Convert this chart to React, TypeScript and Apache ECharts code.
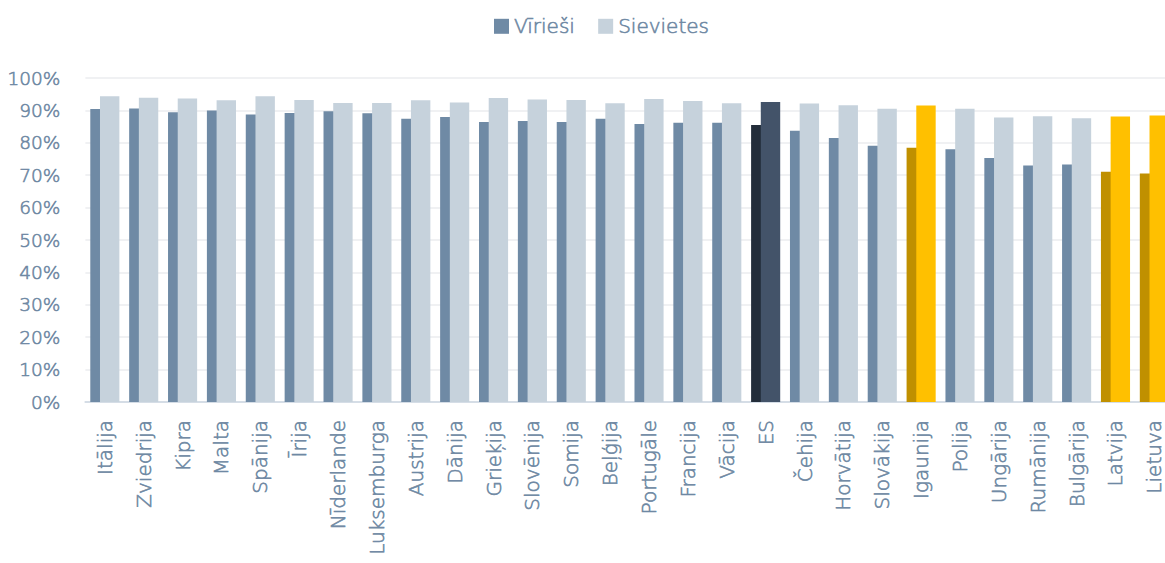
import React, { useEffect, useRef } from "react";
import * as echarts from "echarts";

const categories = [
  "Itālija", "Zviedrija", "Kipra", "Malta", "Spānija", "Īrija", "Nīderlande",
  "Luksemburga", "Austrija", "Dānija", "Grieķija", "Slovēnija", "Somija",
  "Beļģija", "Portugāle", "Francija", "Vācija", "ES", "Čehija", "Horvātija",
  "Slovākija", "Igaunija", "Polija", "Ungārija", "Rumānija", "Bulgārija",
  "Latvija", "Lietuva",
];

const men = [
  90.4, 90.6, 89.4, 90.0, 88.7, 89.2, 89.7, 89.1, 87.4, 88.0, 86.4, 86.7,
  86.4, 87.4, 85.8, 86.2, 86.2, 85.5, 83.7, 81.5, 79.1, 78.5, 78.0, 75.3,
  73.0, 73.3, 71.1, 70.5,
];

const women = [
  94.4, 93.9, 93.7, 93.1, 94.4, 93.2, 92.3, 92.3, 93.1, 92.4, 93.8, 93.4,
  93.2, 92.2, 93.5, 92.9, 92.2, 92.6, 92.1, 91.6, 90.5, 91.5, 90.5, 87.8,
  88.2, 87.6, 88.1, 88.4,
];

const yTicks = [0, 10, 20, 30, 40, 50, 60, 70, 80, 90, 100];

const euAverage = ["ES"];
const baltics = ["Igaunija", "Latvija", "Lietuva"];

const COLORS = {
  men: "#6f8aa5",
  women: "#c6d2dc",
  euMen: "#232d3a",
  euWomen: "#435369",
  balticMen: "#c09000",
  balticWomen: "#ffc000",
  text: "#6e88a3",
};

const FONT = "'DejaVu Sans', sans-serif";

// light face, thickened slightly with an outline of the same colour
const labelText = {
  color: COLORS.text,
  fontFamily: FONT,
  fontWeight: 300,
  textBorderColor: COLORS.text,
  textBorderWidth: 0.6,
};

function colored(values: number[], base: string, eu: string, baltic: string) {
  return values.map((v, i) => {
    const c = categories[i];
    if (euAverage.includes(c)) return { value: v, itemStyle: { color: eu } };
    if (baltics.includes(c)) return { value: v, itemStyle: { color: baltic } };
    return { value: v, itemStyle: { color: base } };
  });
}

export default function App() {
  const ref = useRef<HTMLDivElement>(null);

  useEffect(() => {
    document.body.style.margin = "0";
    if (!ref.current) return;
    const chart = echarts.init(ref.current, undefined, { renderer: "svg" });
    chart.setOption({
      animation: false,
      backgroundColor: "#ffffff",
      textStyle: { fontFamily: FONT },
      legend: {
        top: 11,
        left: 489,
        icon: "rect",
        itemWidth: 15,
        itemHeight: 15,
        itemGap: 23,
        textStyle: { ...labelText, fontSize: 20 },
        data: [
          { name: "Vīrieši", itemStyle: { color: COLORS.men } },
          { name: "Sievietes", itemStyle: { color: COLORS.women } },
        ],
      },
      grid: { left: 85.4, top: 78, width: 1088.4, height: 324, containLabel: false },
      xAxis: {
        type: "category",
        data: categories,
        axisLine: { lineStyle: { color: "#d5dde6", width: 2 } },
        axisTick: { show: false },
        axisLabel: {
          ...labelText,
          rotate: 90,
          margin: 18,
          interval: 0,
          fontSize: 20,
        },
      },
      yAxis: {
        type: "value",
        min: yTicks[0],
        max: yTicks[yTicks.length - 1],
        interval: 10,
        axisLine: { show: false },
        axisTick: { show: false },
        splitLine: { lineStyle: { color: "#f0f1f3", width: 2 } },
        axisLabel: {
          ...labelText,
          margin: 25,
          fontSize: 18.5,
          formatter: (v: number) => `${v}%`,
        },
      },
      series: [
        {
          name: "Vīrieši",
          type: "bar",
          barWidth: 19.4,
          barGap: "-50%",
          itemStyle: { color: COLORS.men },
          data: colored(men, COLORS.men, COLORS.euMen, COLORS.balticMen),
        },
        {
          name: "Sievietes",
          type: "bar",
          barWidth: 19.4,
          barGap: "-50%",
          itemStyle: { color: COLORS.women },
          data: colored(women, COLORS.women, COLORS.euWomen, COLORS.balticWomen),
        },
      ],
    });
    return () => chart.dispose();
  }, []);

  return (
    <div style={{ width: 1165, height: 563, overflow: "hidden", position: "relative" }}>
      <div ref={ref} style={{ width: 1185, height: 563 }} />
    </div>
  );
}
